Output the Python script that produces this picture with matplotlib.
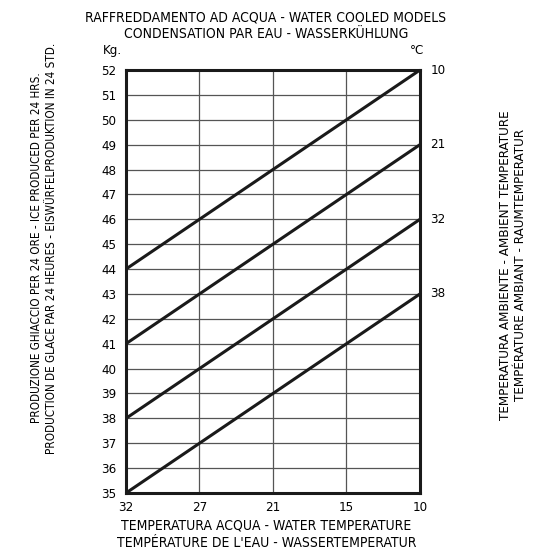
import matplotlib
matplotlib.use("Agg")
import matplotlib.pyplot as plt

# dati
water_temps = ["32", "27", "21", "15", "10"]
ambient_temps = ["10", "21", "32", "38"]
prod_10 = [44, 46, 48, 50, 52]
prod_21 = [41, 43, 45, 47, 49]
prod_32 = [38, 40, 42, 44, 46]
prod_38 = [35, 37, 39, 41, 43]
kg_ticks = list(range(35, 53))

plt.rcParams['font.family'] = ['DejaVu Sans']
plt.rcParams['font.stretch'] = 'condensed'

fig = plt.figure(figsize=(5.44, 5.60), dpi=100)
ax = fig.add_axes([0.2316, 0.1196, 0.5404, 0.7554])

x = list(range(len(water_temps)))
series = [prod_10, prod_21, prod_32, prod_38]
for vals in series:
    ax.plot(x, vals, color='#1a1a1a', lw=2.2, solid_capstyle='butt', zorder=3)

ax.set_xlim(0, len(water_temps) - 1)
ax.set_ylim(35, 52)
ax.set_xticks(x)
ax.set_xticklabels(water_temps, fontsize=9.5)
ax.set_yticks(kg_ticks)
ax.set_yticklabels([str(v) for v in kg_ticks], fontsize=9.5)
ax.tick_params(length=0, pad=7)
ax.tick_params(axis='x', pad=6)
ax.grid(True, color='#555555', lw=0.9)
for s in ax.spines.values():
    s.set_linewidth(2.2)
    s.set_color('#1a1a1a')

# etichette temperatura ambiente a destra
for lab, vals in zip(ambient_temps, series):
    ax.text(1.035, vals[-1], lab, transform=ax.get_yaxis_transform(),
            ha='left', va='center', fontsize=9.5)

ax.text(-0.015, 1.047, "Kg.", transform=ax.transAxes, ha='right', va='center', fontsize=9.5)
ax.text(0.99, 1.047, "°C", transform=ax.transAxes, ha='center', va='center', fontsize=9.5)

fig.text(0.489, 0.954, "RAFFREDDAMENTO AD ACQUA - WATER COOLED MODELS\nCONDENSATION PAR EAU - WASSERKÜHLUNG",
         ha='center', va='center', fontsize=10, linespacing=1.25)
fig.text(0.49, 0.046, "TEMPERATURA ACQUA - WATER TEMPERATURE\nTEMPÉRATURE DE L'EAU - WASSERTEMPERATUR",
         ha='center', va='center', fontsize=10, linespacing=1.25)
fig.text(0.081, 0.557, "PRODUZIONE GHIACCIO PER 24 ORE - ICE PRODUCED PER 24 HRS.\nPRODUCTION DE GLACE PAR 24 HEURES - EISWÜRFELPRODUKTION IN 24 STD.",
         ha='center', va='center', rotation=90, fontsize=8.4, linespacing=1.25)
fig.text(0.943, 0.527, "TEMPERATURA AMBIENTE - AMBIENT TEMPERATURE\nTEMPÉRATURE AMBIANT - RAUMTEMPERATUR",
         ha='center', va='center', rotation=90, fontsize=9.6, linespacing=1.2)

fig.savefig("out.png", dpi=100)
